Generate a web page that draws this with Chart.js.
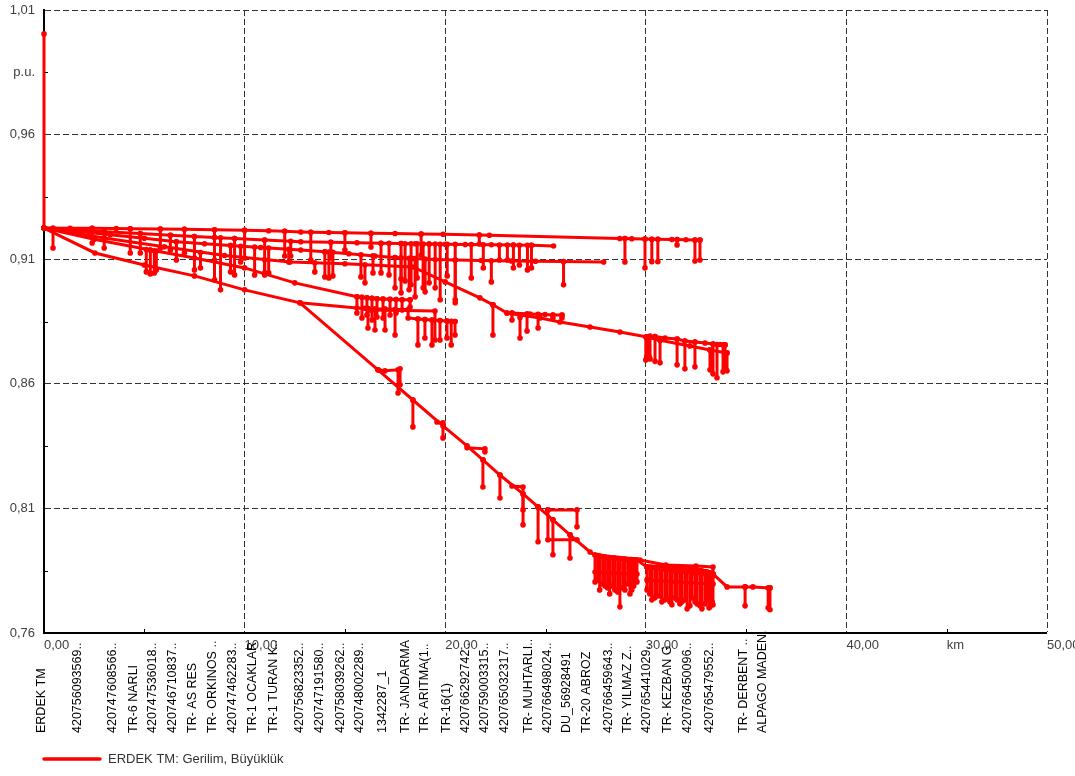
<!DOCTYPE html>
<html>
<head>
<meta charset="utf-8">
<script src="https://cdn.jsdelivr.net/npm/chart.js@4.4.1/dist/chart.umd.min.js"></script>
<style>
  html, body { margin: 0; padding: 0; background: #ffffff; }
</style>
</head>
<body>
<canvas id="profileChart" width="1075" height="776"></canvas>
<script>
// Gerilim profili: mesafe (km) - gerilim (p.u.)
const legendLabel = 'ERDEK TM: Gerilim, Büyüklük';

const xTicks = [0, 5, 10, 15, 20, 25, 30, 35, 40, 45, 50];
const xTickLabels = ['0,00', '', '10,00', '', '20,00', '', '30,00', '', '40,00', 'km', '50,00'];
const yTicks = [0.76, 0.785, 0.81, 0.835, 0.86, 0.885, 0.91, 0.935, 0.96, 0.985, 1.01];
const yTickLabels = ['0,76', '', '0,81', '', '0,86', '', '0,91', '', '0,96', 'p.u.', '1,01'];

// bara isimleri ve mesafeleri (km)
const nodeNames = ['ERDEK TM', '420756093569..', '420747608566..', 'TR-6 NARLI', '420747536018..',
  '420746710837..', 'TR- AS RES', 'TR- ORKINOS ..', '420747462283..', 'TR-1 OCAKLAR', 'TR-1 TURAN K..',
  '420756823352..', '420747191580..', '420758039262..', '420748002289..', '1342287_1', 'TR- JANDARMA',
  'TR- ARITMA(1..', 'TR-16(1)', '420766292742..', '420759003315..', '420765032317..', 'TR- MUHTARLI..',
  '420766498024..', 'DU_56928491', 'TR-20 ABROZ', '420766459643..', 'TR- YILMAZ Z..', '420765441029..',
  'TR- KEZBAN G', '420766450096..', '420765479552..', 'TR- DERBENT ..', 'ALPAGO MADEN.'];
const nodeKm = [-0.1, 1.65, 3.44, 4.44, 5.43, 6.43, 7.43, 8.42, 9.42, 10.42, 11.42, 12.76, 13.76, 14.76,
  15.75, 16.9, 18.0, 18.99, 20.09, 20.99, 21.98, 22.98, 24.13, 25.12, 26.07, 27.07, 28.12, 29.11, 30.06,
  31.06, 32.1, 33.2, 34.85, 35.84];

// [km, p.u.]
const hvBusbar = [[0, 1.0004], [0, 0.9225]];

const feederNorth = [[0, 0.9225], [1.3, 0.9224], [2.4, 0.9224], [3.6, 0.9223], [4.3, 0.9222], [5.8, 0.9221],
  [7.0, 0.922], [8.5, 0.9218], [10.0, 0.9216], [11.2, 0.9214], [12.0, 0.9212], [12.8, 0.9209], [13.3, 0.9208],
  [14.2, 0.9207], [15.0, 0.9206], [16.3, 0.9204], [17.5, 0.9203], [18.8, 0.9201], [19.9, 0.92], [21.7, 0.9197],
  [22.2, 0.9196], [28.7, 0.9183], [28.96, 0.9183], [29.3, 0.9182], [29.96, 0.9181], [30.3, 0.918], [30.6, 0.918],
  [31.3, 0.9179], [31.56, 0.9179], [32.0, 0.9178], [32.45, 0.9177], [32.7, 0.9177]];
// [km, üst p.u., alt p.u.]
const feederNorthDrops = [[0.45, 0.9225, 0.9145], [2.4, 0.9224, 0.9165], [4.3, 0.9222, 0.9125],
  [5.8, 0.9221, 0.9145], [7.0, 0.922, 0.9125], [8.5, 0.9218, 0.9097], [10.0, 0.9216, 0.9105],
  [12.0, 0.9212, 0.9113], [13.3, 0.9208, 0.9097], [15.0, 0.9206, 0.9137], [16.3, 0.9204, 0.9149],
  [18.8, 0.9201, 0.9117], [21.7, 0.9197, 0.9161], [28.96, 0.9183, 0.9089], [29.96, 0.9181, 0.9065],
  [30.3, 0.918, 0.909], [30.6, 0.918, 0.909], [31.56, 0.9179, 0.9157], [32.45, 0.9177, 0.9093],
  [32.7, 0.9177, 0.9097]];

const feederMid = [[0, 0.9225], [1.5, 0.9218], [3.0, 0.921], [4.8, 0.9203], [6.3, 0.9196], [7.5, 0.9191],
  [8.5, 0.9187], [9.5, 0.9183], [11.0, 0.9177], [12.8, 0.917], [14.3, 0.9168], [15.6, 0.9166], [16.8, 0.9164],
  [17.8, 0.9163], [18.5, 0.9162], [19.2, 0.9161], [20.0, 0.916], [21.0, 0.9159], [22.3, 0.9158], [23.4, 0.9157],
  [24.3, 0.9156], [25.4, 0.9153]];
const feederMidDrops = [[3.0, 0.921, 0.9145], [4.8, 0.9203, 0.9125], [6.3, 0.9196, 0.9137],
  [7.5, 0.9191, 0.9057], [8.5, 0.9187, 0.9017], [8.8, 0.9186, 0.8977], [9.5, 0.9183, 0.9037],
  [11.0, 0.9177, 0.9045], [12.3, 0.9172, 0.9113], [14.3, 0.9168, 0.9105], [16.8, 0.9164, 0.9045],
  [17.2, 0.9164, 0.9037], [17.8, 0.9163, 0.9021], [18.0, 0.9162, 0.9013], [18.3, 0.9162, 0.8997],
  [18.6, 0.9162, 0.9025], [18.9, 0.9161, 0.8985], [19.2, 0.9161, 0.9005], [19.5, 0.9161, 0.8985],
  [19.75, 0.916, 0.8937], [20.1, 0.916, 0.9033], [20.5, 0.916, 0.8937], [21.3, 0.9159, 0.9025],
  [21.9, 0.9158, 0.9065], [22.7, 0.9157, 0.9097], [23.1, 0.9157, 0.9097], [23.4, 0.9157, 0.9065],
  [23.7, 0.9156, 0.9077], [24.1, 0.9156, 0.9057], [24.3, 0.9156, 0.9065]];

const feederWest = [[0, 0.9225], [1.6, 0.9212], [3.3, 0.9198], [5.0, 0.9184], [6.6, 0.917], [8.0, 0.9162],
  [9.3, 0.9155], [10.8, 0.9147], [12.8, 0.9137], [14.0, 0.913], [15.2, 0.9122], [16.5, 0.9113], [17.5, 0.9107],
  [18.4, 0.9103], [19.5, 0.9099], [20.5, 0.9097], [21.8, 0.9095], [23.3, 0.9093], [24.5, 0.9092],
  [25.9, 0.9091], [27.9, 0.9089]];
const feederWestDrops = [[6.6, 0.917, 0.9097], [9.3, 0.9155, 0.9049], [9.8, 0.9152, 0.9089],
  [10.5, 0.9149, 0.9037], [11.2, 0.9145, 0.9045], [12.2, 0.914, 0.9089], [14.0, 0.913, 0.9029],
  [14.2, 0.9129, 0.9025], [14.4, 0.9128, 0.9033], [15.8, 0.9118, 0.9029], [16.4, 0.9114, 0.9045],
  [17.5, 0.9107, 0.8985], [17.8, 0.9106, 0.8965], [18.2, 0.9104, 0.8977], [18.5, 0.9103, 0.8949],
  [19.0, 0.9101, 0.8969], [20.5, 0.9097, 0.8925], [22.3, 0.9094, 0.9009], [25.9, 0.9091, 0.8997]];

const feederSouth = [[0, 0.9225], [3.0, 0.9185], [6.0, 0.915], [9.0, 0.9115], [12.26, 0.9089], [15.0, 0.9082],
  [18.39, 0.9069], [20.0, 0.9009], [21.73, 0.8945], [22.38, 0.8917], [23.08, 0.8884], [24.73, 0.8864],
  [25.72, 0.8848], [27.22, 0.8828], [28.71, 0.8808], [30.06, 0.8788], [30.46, 0.879], [30.96, 0.8784],
  [31.56, 0.878], [31.95, 0.8772], [32.45, 0.8768], [32.95, 0.8764], [33.35, 0.876], [33.7, 0.8758],
  [33.95, 0.8756]];
const feederSouthBranches = [
  [[23.08, 0.8884], [23.33, 0.8884], [24.23, 0.888], [24.98, 0.8878], [25.37, 0.8876], [25.82, 0.8876]],
  [[30.06, 0.8788], [30.71, 0.8775], [32.2, 0.8752], [33.2, 0.8736], [34.05, 0.8724]]];
const feederSouthDrops = [[7.8, 0.9127, 0.9065], [11.0, 0.9098, 0.9037], [13.5, 0.9086, 0.9049],
  [16.0, 0.9078, 0.9005], [22.38, 0.8917, 0.8796], [23.33, 0.8884, 0.8856], [23.73, 0.8866, 0.8784],
  [24.08, 0.8881, 0.8812], [24.63, 0.8879, 0.8824], [25.37, 0.8876, 0.8864], [25.82, 0.8876, 0.8864],
  [30.0, 0.8788, 0.8696], [30.05, 0.8788, 0.8708], [30.1, 0.8787, 0.8704], [30.15, 0.8789, 0.8712],
  [30.21, 0.8792, 0.87], [30.46, 0.879, 0.869], [30.71, 0.8775, 0.8684], [31.56, 0.878, 0.8676],
  [31.95, 0.8772, 0.866], [32.45, 0.8768, 0.8668], [33.2, 0.8736, 0.8656], [33.35, 0.876, 0.864],
  [33.55, 0.8758, 0.8624], [33.85, 0.8757, 0.8648], [33.95, 0.8756, 0.8664], [34.05, 0.8724, 0.8652]];

const feederUpper = [[0, 0.9225], [2.5, 0.918], [5.3, 0.9137], [7.5, 0.9105], [10.0, 0.9065], [12.5, 0.9005],
  [15.6, 0.8949], [15.85, 0.8947], [16.1, 0.8945], [16.35, 0.8943], [16.6, 0.8941], [16.9, 0.894],
  [17.25, 0.8939], [17.55, 0.8938], [17.85, 0.8937], [18.25, 0.8937]];
const feederUpperDrops = [[5.1, 0.9139, 0.9049], [5.3, 0.9137, 0.9041], [5.5, 0.9134, 0.9045],
  [5.6, 0.9133, 0.9057], [15.6, 0.8949, 0.8884], [15.85, 0.8947, 0.8864], [16.1, 0.8945, 0.8876],
  [16.35, 0.8943, 0.8856], [16.6, 0.8941, 0.8868], [16.9, 0.894, 0.8864], [17.25, 0.8939, 0.8876],
  [17.55, 0.8938, 0.8884], [17.85, 0.8937, 0.8896], [18.25, 0.8937, 0.8908]];

const feederLower = [[12.76, 0.8925], [15.6, 0.8904], [16.15, 0.8902], [16.5, 0.89], [17.0, 0.89],
  [17.5, 0.8898], [18.15, 0.8898], [18.15, 0.8864], [18.64, 0.886], [18.99, 0.8858], [19.34, 0.8856],
  [19.74, 0.8854], [20.09, 0.8852], [20.49, 0.885]];
const feederLowerBranches = [[[16.0, 0.8903], [16.25, 0.8896], [19.49, 0.8892], [19.49, 0.8776]]];
const feederLowerDrops = [[16.15, 0.8902, 0.8824], [16.5, 0.89, 0.8816], [17.0, 0.89, 0.8816],
  [17.5, 0.8898, 0.8796], [18.64, 0.886, 0.8756], [18.99, 0.8858, 0.8784], [19.34, 0.8856, 0.8756],
  [19.74, 0.8854, 0.8776], [20.09, 0.8852, 0.8784], [20.3, 0.8851, 0.8756], [20.49, 0.885, 0.8796]];

const feederLong = [[0, 0.9225], [2.54, 0.9125], [5.0, 0.9077], [7.5, 0.9033], [10.0, 0.8977],
  [12.76, 0.8925], [16.65, 0.8656], [18.39, 0.8535], [19.89, 0.8431], [21.09, 0.8351], [21.88, 0.8295],
  [22.73, 0.8234], [23.88, 0.8158], [24.63, 0.8106], [25.37, 0.8054], [26.22, 0.7994], [27.22, 0.7925],
  [27.47, 0.7913], [27.97, 0.7905], [28.46, 0.7901], [28.96, 0.7897], [29.56, 0.7893], [30.06, 0.7865],
  [30.56, 0.7864], [31.06, 0.7861], [31.56, 0.786], [32.06, 0.7857], [32.55, 0.7853], [33.05, 0.7845],
  [33.35, 0.7837], [34.05, 0.7785], [34.95, 0.7785], [35.34, 0.7785], [36.19, 0.7781]];
const feederLongBranches = [
  [[16.65, 0.8656], [17.0, 0.8652], [17.65, 0.8656], [17.65, 0.8563]],
  [[19.59, 0.8447], [19.89, 0.8443], [19.89, 0.8383]],
  [[21.09, 0.8343], [21.98, 0.8339], [21.98, 0.8327]],
  [[23.33, 0.819], [23.88, 0.8186], [23.88, 0.8094]],
  [[25.12, 0.8094], [26.57, 0.8094], [26.57, 0.8026]],
  [[25.12, 0.8094], [25.12, 0.7974], [26.57, 0.7974]],
  [[29.71, 0.7893], [31.0, 0.7873], [32.5, 0.7869], [33.35, 0.7865], [33.35, 0.7837]],
  [[30.06, 0.7865], [31.5, 0.7845], [32.35, 0.7841], [33.35, 0.7829]],
  [[27.47, 0.7845], [28.2, 0.7841], [29.56, 0.7837]],
  [[30.06, 0.7813], [31.5, 0.7805], [33.35, 0.7797]]];
const feederLongDrops = [[17.75, 0.866, 0.8596], [18.39, 0.8535, 0.8427], [21.88, 0.8295, 0.8186],
  [22.73, 0.8234, 0.8142], [23.88, 0.8158, 0.8034], [24.63, 0.8106, 0.7966], [25.37, 0.8054, 0.7914],
  [26.22, 0.7994, 0.7901], [27.47, 0.7913, 0.7805], [27.7, 0.791, 0.7773], [27.97, 0.7905, 0.7789],
  [28.2, 0.7903, 0.7757], [28.46, 0.7901, 0.7773], [28.71, 0.7899, 0.7705], [28.96, 0.7897, 0.7773],
  [29.21, 0.7895, 0.7757], [29.4, 0.7894, 0.7789], [29.56, 0.7893, 0.7805], [30.06, 0.7865, 0.7773],
  [30.3, 0.7865, 0.7733], [30.56, 0.7864, 0.7749], [30.8, 0.7863, 0.7725], [31.06, 0.7861, 0.7741],
  [31.3, 0.7861, 0.7713], [31.56, 0.786, 0.7733], [31.8, 0.7859, 0.7725], [32.06, 0.7857, 0.7697],
  [32.3, 0.7856, 0.7741], [32.55, 0.7853, 0.7717], [32.8, 0.785, 0.7697], [33.05, 0.7845, 0.7733],
  [33.2, 0.7842, 0.7705], [33.35, 0.7837, 0.7713], [34.95, 0.7785, 0.7709], [36.1, 0.7781, 0.7701],
  [36.19, 0.7781, 0.7693]];
// 0,78 civarındaki yoğun trafo grubu
const farClusterDrops = [[27.6, 0.7911, 0.7813], [27.85, 0.7907, 0.7797], [28.1, 0.7904, 0.7781],
  [28.35, 0.7902, 0.7789], [28.6, 0.79, 0.7765], [28.85, 0.7898, 0.7781], [29.1, 0.7896, 0.7797],
  [29.3, 0.7895, 0.7773], [29.48, 0.7894, 0.7813], [30.2, 0.7865, 0.7757], [30.45, 0.7864, 0.7741],
  [30.7, 0.7863, 0.7749], [30.95, 0.7862, 0.7733], [31.2, 0.7861, 0.7725], [31.45, 0.786, 0.7741],
  [31.7, 0.7859, 0.7717], [31.95, 0.7858, 0.7733], [32.2, 0.7856, 0.7709], [32.45, 0.7854, 0.7725],
  [32.7, 0.7851, 0.7709], [32.95, 0.7847, 0.7717], [33.15, 0.7843, 0.7701], [33.3, 0.7839, 0.7725]];

const RED = '#ff0000';
const FONT = '"Liberation Sans", Arial, sans-serif';

const toLine = pts => pts.map(([x, y]) => ({ x, y }));
const toDrops = list => list.flatMap(([x, top, bottom]) => [{ x, y: top }, { x, y: bottom }, { x, y: null }]);
const toBranches = list => list.flatMap(pts => [...toLine(pts), { x: pts[pts.length - 1][0], y: null }]);

const series = [
  toLine(hvBusbar),
  toLine(feederNorth), toDrops(feederNorthDrops),
  toLine(feederMid), toDrops(feederMidDrops),
  toLine(feederWest), toDrops(feederWestDrops),
  toLine(feederSouth), toBranches(feederSouthBranches), toDrops(feederSouthDrops),
  toLine(feederUpper), toDrops(feederUpperDrops),
  toLine(feederLower), toBranches(feederLowerBranches), toDrops(feederLowerDrops),
  toLine(feederLong), toBranches(feederLongBranches), toDrops(feederLongDrops), toDrops(farClusterDrops)
];

const isMajor = ctx => ctx.index > 0 && ctx.index % 2 === 0;

// alt etiketler, iç tikler ve gösterge
const decorPlugin = {
  id: 'decor',
  afterDraw(chart) {
    const { ctx, chartArea, scales: { x, y } } = chart;
    ctx.save();
    ctx.strokeStyle = '#000';
    ctx.lineWidth = 1;
    xTicks.forEach((v, i) => {
      if (i % 2 === 0) return;
      const px = Math.round(x.getPixelForValue(v)) + 0.5;
      ctx.beginPath(); ctx.moveTo(px, chartArea.bottom); ctx.lineTo(px, chartArea.bottom - 4); ctx.stroke();
    });
    yTicks.forEach((v, i) => {
      if (i % 2 === 0) return;
      const py = Math.round(y.getPixelForValue(v)) + 0.5;
      ctx.beginPath(); ctx.moveTo(chartArea.left, py); ctx.lineTo(chartArea.left + 4, py); ctx.stroke();
    });

    ctx.font = '12.5px ' + FONT;
    ctx.fillStyle = '#000';
    ctx.textAlign = 'left';
    ctx.textBaseline = 'middle';
    nodeNames.forEach((name, i) => {
      ctx.save();
      ctx.translate(x.getPixelForValue(nodeKm[i]), 733);
      ctx.rotate(-Math.PI / 2);
      ctx.fillText(name, 0, 0);
      ctx.restore();
    });

    ctx.strokeStyle = RED;
    ctx.lineWidth = 3.5;
    ctx.lineCap = 'round';
    ctx.beginPath(); ctx.moveTo(44, 759); ctx.lineTo(100, 759); ctx.stroke();
    ctx.font = '13px ' + FONT;
    ctx.fillStyle = '#333';
    ctx.fillText(legendLabel, 108, 759);
    ctx.restore();
  }
};

new Chart(document.getElementById('profileChart'), {
  type: 'line',
  data: {
    datasets: series.map((data, i) => ({
      label: i === 0 ? legendLabel : '',
      data: data,
      borderColor: RED,
      backgroundColor: RED,
      borderWidth: 3,
      pointRadius: 2.8,
      pointBorderWidth: 0,
      pointBackgroundColor: RED,
      tension: 0,
      fill: false,
      spanGaps: false,
      clip: false
    }))
  },
  options: {
    responsive: false,
    animation: false,
    events: [],
    layout: { padding: { top: 10, right: 28, bottom: 0, left: 0 } },
    plugins: {
      legend: { display: false },
      tooltip: { enabled: false }
    },
    scales: {
      x: {
        type: 'linear',
        min: 0,
        max: 50,
        afterBuildTicks: scale => { scale.ticks = xTicks.map(v => ({ value: v })); },
        afterFit: scale => { scale.height = 143; scale.paddingLeft = 0; scale.paddingRight = 0; },
        ticks: {
          autoSkip: false,
          maxRotation: 0,
          align: 'start',
          padding: 5,
          color: '#404040',
          font: { family: FONT, size: 13 },
          callback: (value, index) => xTickLabels[index]
        },
        grid: {
          drawTicks: false,
          color: '#333',
          lineWidth: ctx => (isMajor(ctx) ? 1 : 0)
        },
        border: { display: true, color: '#000', width: 2, dash: [6, 3] }
      },
      y: {
        type: 'linear',
        min: 0.76,
        max: 1.01,
        afterBuildTicks: scale => { scale.ticks = yTicks.map(v => ({ value: v })); },
        afterFit: scale => { scale.width = 44; scale.paddingTop = 0; scale.paddingBottom = 0; },
        ticks: {
          autoSkip: false,
          padding: 9,
          color: '#404040',
          font: { family: FONT, size: 13 },
          callback: (value, index) => yTickLabels[index]
        },
        grid: {
          drawTicks: false,
          color: '#333',
          lineWidth: ctx => (isMajor(ctx) ? 1 : 0)
        },
        border: { display: true, color: '#000', width: 2, dash: [6, 3] }
      }
    }
  },
  plugins: [decorPlugin]
});
</script>
</body>
</html>
